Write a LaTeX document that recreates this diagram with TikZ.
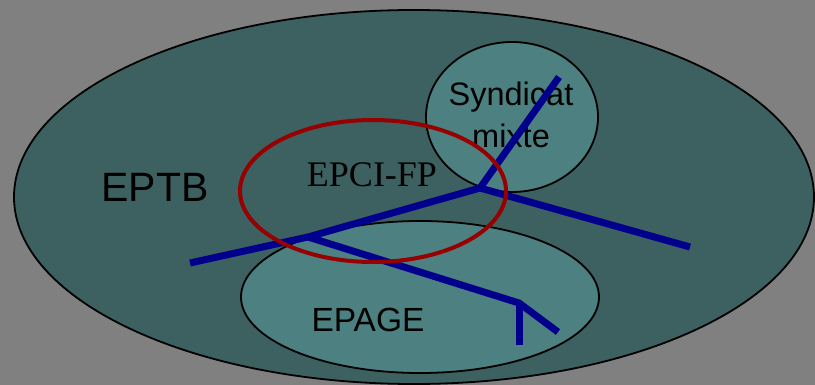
\documentclass[tikz,border=0pt]{standalone}
\usepackage{fontspec}
\setmainfont{Liberation Serif}
\setsansfont{Liberation Sans}
\definecolor{bggrey}{RGB}{128,128,128}
\definecolor{darkteal}{RGB}{61,97,97}
\definecolor{lightteal}{RGB}{77,128,128}
\definecolor{rivblue}{RGB}{0,0,140}
\definecolor{epcired}{RGB}{150,0,0}
\tikzset{
  zone/.style={draw=black, line width=1.8pt},
  river/.style={draw=rivblue, line width=7pt, line cap=butt, line join=miter},
  lbl/.style={anchor=base, inner sep=0pt, text=black},
}
\begin{document}
\begin{tikzpicture}[x=1pt,y=-1pt]
\fill[bggrey] (0,0) rectangle (815,385);
\useasboundingbox (0,0) rectangle (815,385);
% EPTB
\draw[zone, fill=darkteal] (414,197) ellipse [x radius=400, y radius=187];
% Syndicat mixte
\draw[zone, fill=lightteal] (512,117) ellipse [x radius=86, y radius=75];
% EPAGE
\draw[zone, fill=lightteal] (420,297) ellipse [x radius=179, y radius=76];
% labels
\node[lbl, font=\sffamily\fontsize{41}{50}\selectfont] (eptb) at (155,202) {EPTB};
\node[lbl, font=\sffamily\fontsize{32.5}{42}\selectfont] (synd) at (511,106) {Syndicat};
\node[lbl, font=\sffamily\fontsize{32.5}{42}\selectfont] (mixte) at (511,148) {mixte};
\node[lbl, font=\sffamily\fontsize{33.5}{40}\selectfont] (epage) at (368,331) {EPAGE};
\node[lbl, font=\rmfamily\fontsize{36}{40}\selectfont] (epci) at (372,187) {EPCI-FP};
% river network
\coordinate (j1) at (480,188);
\coordinate (top) at (559,77);
\coordinate (east) at (690,247);
\coordinate (j2) at (308,237);
\coordinate (west) at (190,263);
\coordinate (j3) at (519,303);
\coordinate (se) at (558,332);
\coordinate (south) at (519,345);
\draw[river] (top) -- (j1) -- (east);
\draw[river] (j1) -- (j2) -- (west);
\draw[river] (j2) -- (j3) -- (se);
\draw[river] (j3) -- (south);
% EPCI-FP
\draw[epcired, line width=4pt] (373,191) ellipse [x radius=133, y radius=71];
\end{tikzpicture}
\end{document}
